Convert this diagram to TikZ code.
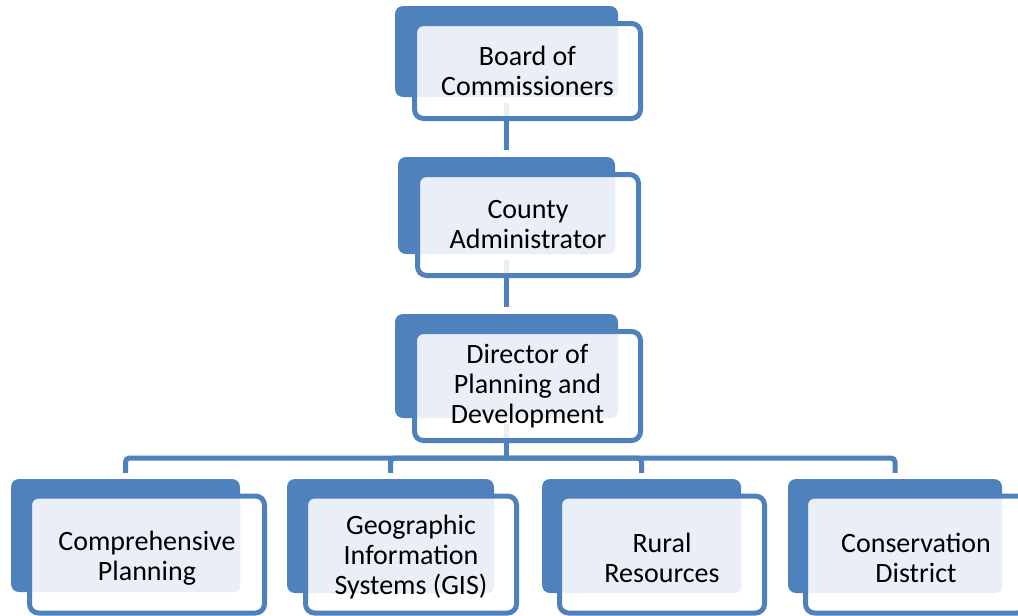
\documentclass[tikz,border=0pt]{standalone}
\usepackage{fontspec}
\setmainfont{Carlito}
\definecolor{orgblue}{HTML}{4F81BD}
\definecolor{orglight}{HTML}{EAEFF7}
\tikzset{
  backbox/.style={rectangle, rounded corners=8pt, fill=orgblue, draw=none, inner sep=0pt},
  frontbox/.style={rectangle, rounded corners=9pt, draw=orgblue, line width=5pt,
    fill=white, fill opacity=0.88, text opacity=1, draw opacity=1, inner sep=0pt,
    align=center, font=\fontsize{28}{30}\selectfont,
    path picture={\fill[orglight, fill opacity=1, rounded corners=7pt]
      (path picture bounding box.north west) rectangle (#1.south east);}},
  boxlabel/.style={align=center, inner sep=0pt, font=\fontsize{28}{30}\selectfont},
  conn/.style={draw=orgblue, line width=5pt}
}
\begin{document}
\begin{tikzpicture}[x=1pt,y=-1pt]
\useasboundingbox (0,0) rectangle (1018,616);
% back boxes
\node[backbox, minimum width=223pt, minimum height=91pt]  (b1) at (506.5,51.5) {};
\node[backbox, minimum width=217pt, minimum height=97pt]  (b2) at (506.5,205.5) {};
\node[backbox, minimum width=223pt, minimum height=104pt] (b3) at (506.5,366) {};
\node[backbox, minimum width=229pt, minimum height=113pt] (b4) at (125.5,535.5) {};
\node[backbox, minimum width=207pt, minimum height=114pt] (b5) at (390.5,536) {};
\node[backbox, minimum width=199pt, minimum height=114pt] (b6) at (641.5,536) {};
\node[backbox, minimum width=214pt, minimum height=114pt] (b7) at (895,536) {};
% connectors
\coordinate (bus) at (506.5,458);
\draw[conn, shorten <=6pt, shorten >=7pt] (b1.south) -- (b2.north);
\draw[conn, shorten <=6pt, shorten >=7pt] (b2.south) -- (b3.north);
\draw[conn, shorten <=6pt] (b3.south) -- (bus);
\foreach \t in {b4,b5,b6,b7}{
  \draw[conn, rounded corners=4pt, shorten >=6pt] (bus) -| (\t.north);
}
% front boxes
\node[frontbox=b1, minimum width=226pt, minimum height=95pt]  (f1) at (527.5,71)  {Board of\\Commissioners};
\node[frontbox=b2, minimum width=221pt, minimum height=101pt] (f2) at (528,225)   {County\\Administrator};
\node[frontbox=b3, minimum width=226pt, minimum height=109pt] (f3) at (527.5,386) {Director of\\Planning and\\Development};
\node[frontbox=b4, minimum width=235pt, minimum height=117pt] (f4) at (147,554.5) {};
\node[frontbox=b5, minimum width=211pt, minimum height=117pt] (f5) at (411,554.5) {};
\node[frontbox=b6, minimum width=205pt, minimum height=117pt] (f6) at (662,554.5) {};
\node[frontbox=b7, minimum width=221pt, minimum height=117pt] (f7) at (916,554.5) {};
\node[boxlabel] (t4) at ([yshift=-3.5pt]f4.center) {Comprehensive\\Planning};
\node[boxlabel] (t5) at ([yshift=-3pt]f5.center) {Geographic\\Information\\Systems (GIS)};
\node[boxlabel] (t6) at ([yshift=-3.5pt]f6.center) {Rural\\Resources};
\node[boxlabel] (t7) at ([yshift=-3.5pt]f7.center) {Conservation\\District};
\end{tikzpicture}
\end{document}
